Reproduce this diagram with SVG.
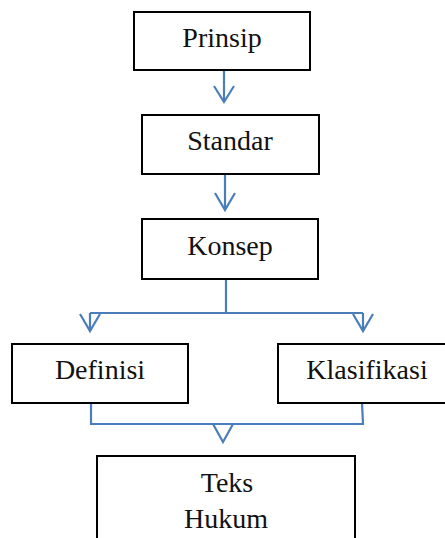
<svg xmlns="http://www.w3.org/2000/svg" width="445" height="538" viewBox="0 0 445 538">
<defs>
<style>
.box{fill:#fff;stroke:#000;stroke-width:2}
.lbl{font-family:"Liberation Serif","Times New Roman",serif;font-size:28px;fill:#111;text-anchor:middle}
.con{fill:none;stroke:#4a7ebb;stroke-width:2.2;stroke-linejoin:miter}
</style>
</defs>
<rect width="445" height="538" fill="#fff"/>
<g id="connectors">
<path class="con" d="M224 70 V101"/>
<path class="con" d="M214 86 L224 102 L234 86"/>
<path class="con" d="M225 174 V209"/>
<path class="con" d="M215 193 L225 210 L235 193"/>
<path class="con" d="M226 279 V313 M90 313 H363 M90 313 V331 M363 313 V331"/>
<path class="con" d="M80 314 L90 331 L100 314"/>
<path class="con" d="M353 314 L363 331 L373 314"/>
<path class="con" d="M91 403 V424 H363 L362 403"/>
<path class="con" d="M213 424 L223 442 L233 424"/>
</g>
<g id="prinsip">
<rect class="box" x="134" y="12" width="176" height="58"/>
<text class="lbl" x="222" y="47">Prinsip</text>
</g>
<g id="standar">
<rect class="box" x="142" y="115" width="177" height="59"/>
<text class="lbl" x="230" y="150">Standar</text>
</g>
<g id="konsep">
<rect class="box" x="142" y="219" width="176" height="60"/>
<text class="lbl" x="230" y="255">Konsep</text>
</g>
<g id="definisi">
<rect class="box" x="12" y="344" width="176" height="59"/>
<text class="lbl" x="100" y="379">Definisi</text>
</g>
<g id="klasifikasi">
<rect class="box" x="278" y="344" width="176" height="59"/>
<text class="lbl" x="367" y="379">Klasifikasi</text>
</g>
<g id="teks-hukum">
<rect class="box" x="97" y="456" width="258" height="100"/>
<text class="lbl" x="227" y="492">Teks</text>
<text class="lbl" x="226" y="528">Hukum</text>
</g>
</svg>
